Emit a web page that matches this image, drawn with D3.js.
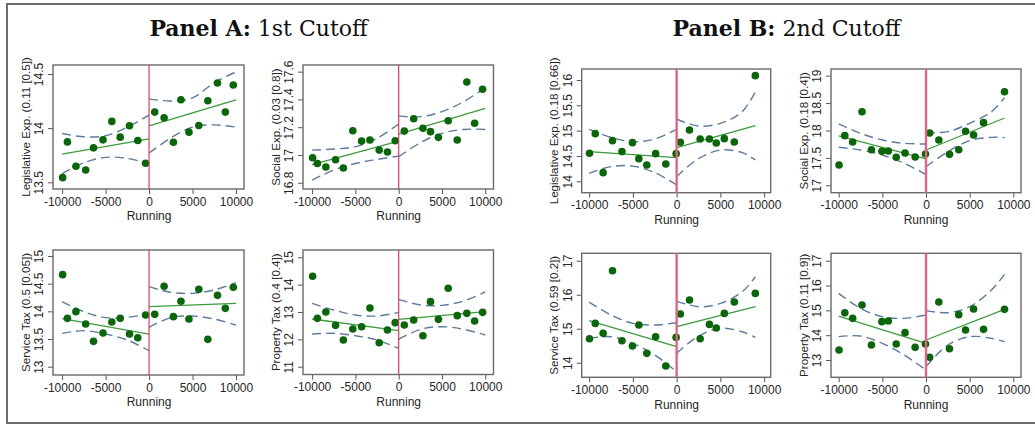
<!DOCTYPE html>
<html><head><meta charset="utf-8">
<script src="https://cdn.jsdelivr.net/npm/d3@7/dist/d3.min.js"></script>
<style>
html,body{margin:0;padding:0;background:#fff;}
svg{display:block;}
</style></head>
<body>
<svg id="chart" width="1035" height="428"></svg>
<script>
// ---------- DATA ----------
const binXA = [-9940, -9390, -8410, -7290, -6390, -5300, -4280, -3320, -2250, -1300, -400, 650, 1730, 2800, 3670, 4590, 5720, 6760, 7870, 8770, 9690];
const binXB = [-9960, -9300, -8400, -7330, -6250, -5050, -4320, -3410, -2400, -1240, -60, 420, 1470, 2690, 3750, 4530, 5450, 6590, 8990];

const legExpA  = [13.543, 13.873, 13.648, 13.614, 13.818, 13.892, 14.062, 13.917, 14.022, 13.886, 13.676, 14.148, 14.096, 13.870, 14.262, 13.963, 14.025, 14.253, 14.417, 14.148, 14.398];
const socExpA  = [16.980, 16.939, 16.913, 16.966, 16.906, 17.175, 17.100, 17.108, 17.035, 17.021, 17.103, 17.172, 17.261, 17.192, 17.168, 17.127, 17.247, 17.108, 17.526, 17.228, 17.473];
const servTaxA = [14.663, 13.873, 13.994, 13.771, 13.458, 13.608, 13.807, 13.873, 13.590, 13.524, 13.934, 13.946, 14.452, 13.904, 14.181, 13.861, 14.398, 13.494, 14.289, 14.054, 14.434];
const propTaxA = [14.305, 12.768, 13.000, 12.512, 11.976, 12.378, 12.463, 13.146, 11.878, 12.341, 12.610, 12.524, 12.707, 12.134, 13.378, 12.732, 13.866, 12.866, 12.951, 12.671, 12.988];
const legExpB  = [14.553, 14.941, 14.171, 14.803, 14.586, 14.763, 14.447, 14.322, 14.546, 14.342, 14.546, 14.770, 15.013, 14.836, 14.836, 14.757, 14.842, 14.776, 16.086];
const socExpB  = [17.371, 17.906, 17.790, 18.343, 17.650, 17.620, 17.626, 17.511, 17.590, 17.517, 17.571, 17.954, 17.827, 17.565, 17.650, 17.985, 17.918, 18.143, 18.708];
const servTaxB = [14.706, 15.157, 14.863, 16.706, 14.647, 14.490, 15.108, 14.275, 14.765, 13.902, 14.745, 15.431, 15.843, 14.706, 15.127, 15.020, 15.451, 15.784, 16.039];
const propTaxB = [13.403, 14.906, 14.678, 15.215, 13.604, 14.544, 14.570, 13.644, 14.101, 13.510, 13.644, 13.107, 15.336, 13.456, 14.826, 14.208, 15.054, 14.235, 15.040];

// fitted lines: [left start, left end (cutoff), right start (cutoff), right end]
const fitXA = [-10000, 0, 0, 10000];
const fitXB = [-10000, 0, 0, 9000];
const legExpAFit  = [13.76, 13.90, 14.02, 14.26];
const socExpAFit  = [16.93, 17.10, 17.15, 17.336];
const servTaxAFit = [13.867, 13.59, 14.084, 14.145];
const propTaxAFit = [12.744, 12.317, 12.732, 13.012];
const legExpBFit  = [14.586, 14.467, 14.664, 15.099];
const socExpBFit  = [17.90, 17.48, 17.644, 18.228];
const servTaxBFit = [15.235, 14.471, 15.059, 15.647];
const propTaxBFit = [14.772, 13.671, 13.805, 15.04];

// confidence bands (first 5 values left of cutoff, last 5 right of cutoff)
const ciXA = [-10000, -7500, -5000, -2500, 0, 0, 2500, 5000, 7500, 10000];
const ciXB = [-10000, -7500, -5000, -2500, 0, 0, 2500, 5000, 7500, 9000];
const legExpAHi  = [13.95, 13.92, 13.93, 14.01, 14.12, 14.27, 14.25, 14.28, 14.42, 14.52];
const legExpALo  = [13.58, 13.68, 13.73, 13.72, 13.67, 13.77, 13.91, 14.01, 14.03, 14.01];
const socExpAHi  = [17.035, 17.043, 17.06, 17.12, 17.223, 17.28, 17.276, 17.312, 17.384, 17.485];
const socExpALo  = [16.819, 16.891, 16.939, 16.968, 16.992, 16.987, 17.088, 17.156, 17.184, 17.184];
const servTaxAHi = [14.175, 13.994, 13.886, 13.892, 13.952, 14.446, 14.343, 14.325, 14.386, 14.518];
const servTaxALo = [13.602, 13.651, 13.590, 13.482, 13.289, 13.711, 13.886, 13.916, 13.861, 13.753];
const propTaxAHi = [13.317, 13.073, 12.89, 12.854, 12.988, 13.463, 13.256, 13.244, 13.402, 13.732];
const propTaxALo = [12.195, 12.22, 12.134, 11.976, 11.67, 12.0, 12.366, 12.463, 12.366, 12.159];
const legExpBHi  = [15.026, 14.868, 14.783, 14.836, 15.026, 15.23, 15.092, 15.145, 15.375, 15.77];
const legExpBLo  = [14.158, 14.29, 14.30, 14.171, 13.928, 14.092, 14.447, 14.618, 14.566, 14.42];
const socExpBHi  = [18.119, 17.948, 17.827, 17.766, 17.754, 17.96, 17.979, 18.131, 18.343, 18.599];
const socExpBLo  = [17.693, 17.644, 17.553, 17.401, 17.195, 17.34, 17.614, 17.815, 17.875, 17.869];
const servTaxBHi = [15.784, 15.402, 15.157, 15.108, 15.176, 15.814, 15.647, 15.745, 16.088, 16.529];
const servTaxBLo = [14.716, 14.765, 14.569, 14.225, 13.735, 14.275, 14.784, 15.01, 14.912, 14.745];
const propTaxBHi = [15.685, 15.081, 14.745, 14.678, 14.812, 14.987, 14.906, 15.148, 15.819, 16.45];
const propTaxBLo = [13.94, 13.966, 13.671, 13.201, 12.597, 12.732, 13.604, 13.94, 13.872, 13.738];

const xTicks = [-10000, -5000, 0, 5000, 10000];
const yTicksLegA = [13.5, 14, 14.5];
const yTicksSocA = [16.8, 17, 17.2, 17.4, 17.6];
const yTicksSerA = [13, 13.5, 14, 14.5, 15];
const yTicksProA = [11, 12, 13, 14, 15];
const yTicksLegB = [14, 14.5, 15, 15.5, 16];
const yTicksSocB = [17, 17.5, 18, 18.5, 19];
const yTicksSerB = [14, 15, 16, 17];
const yTicksProB = [13, 14, 15, 16, 17];

const titlesA = ["Legislative Exp. (0.11 [0.5])", "Social Exp. (0.03 [0.8])", "Service Tax (0.5 [0.05])", "Property Tax (0.4 [0.4])"];
const titlesB = ["Legislative Exp. (0.18 [0.66])", "Social Exp. (0.18 [0.4])", "Service Tax (0.59 [0.2])", "Property Tax (0.11 [0.9])"];
const xTitle = "Running";

// ---------- LAYOUT ----------
const panels = [
  {bx: binXA, y: legExpA, fx: fitXA, fit: legExpAFit, cx: ciXA, hi: legExpAHi, lo: legExpALo, ticks: yTicksLegA, title: titlesA[0],
   box: [53, 65, 244, 189], xd: [-11050, 10920], yd: [13.438, 14.583], B: false},
  {bx: binXA, y: socExpA, fx: fitXA, fit: socExpAFit, cx: ciXA, hi: socExpAHi, lo: socExpALo, ticks: yTicksSocA, title: titlesA[1],
   box: [303, 65, 493.5, 189], xd: [-11050, 10950], yd: [16.755, 17.648], B: false},
  {bx: binXA, y: servTaxA, fx: fitXA, fit: servTaxAFit, cx: ciXA, hi: servTaxAHi, lo: servTaxALo, ticks: yTicksSerA, title: titlesA[2],
   box: [53, 250, 244, 375], xd: [-11050, 10920], yd: [12.85, 15.108], B: false},
  {bx: binXA, y: propTaxA, fx: fitXA, fit: propTaxAFit, cx: ciXA, hi: propTaxAHi, lo: propTaxALo, ticks: yTicksProA, title: titlesA[3],
   box: [303, 250, 493.5, 374.5], xd: [-11050, 10950], yd: [10.715, 15.267], B: false},
  {bx: binXB, y: legExpB, fx: fitXB, fit: legExpBFit, cx: ciXB, hi: legExpBHi, lo: legExpBLo, ticks: yTicksLegB, title: titlesB[0],
   box: [581.7, 69, 770.7, 192.7], xd: [-10850, 10750], yd: [13.775, 16.217], B: true},
  {bx: binXB, y: socExpB, fx: fitXB, fit: socExpBFit, cx: ciXB, hi: socExpBHi, lo: socExpBLo, ticks: yTicksSocB, title: titlesB[1],
   box: [831, 69, 1021, 192.7], xd: [-10880, 10880], yd: [16.865, 19.122], B: true},
  {bx: binXB, y: servTaxB, fx: fitXB, fit: servTaxBFit, cx: ciXB, hi: servTaxBHi, lo: servTaxBLo, ticks: yTicksSerB, title: titlesB[2],
   box: [581.7, 253.3, 770.7, 377.3], xd: [-10850, 10750], yd: [13.571, 17.218], B: true},
  {bx: binXB, y: propTaxB, fx: fitXB, fit: propTaxBFit, cx: ciXB, hi: propTaxBHi, lo: propTaxBLo, ticks: yTicksProB, title: titlesB[3],
   box: [831, 253.3, 1021, 377.3], xd: [-10880, 10880], yd: [12.303, 17.298], B: true}
];

const svg = d3.select("#chart");
const FONT = "'Liberation Sans', Arial, sans-serif";
const TXT = "#262626";

// outer border
svg.append("path").attr("d", "M1036,4 H7 V423 H1036")
  .attr("fill", "none").attr("stroke", "#6e6e6e").attr("stroke-width", 2);

// headers
function header(cx, bold, rest) {
  const t = svg.append("text").attr("x", cx).attr("y", 36).attr("text-anchor", "middle")
    .attr("font-family", "'DejaVu Serif', 'Liberation Serif', serif").attr("font-size", 22).attr("fill", "#111");
  t.append("tspan").attr("font-weight", "bold").text(bold);
  t.append("tspan").text(rest);
}
header(258.5, "Panel A:", " 1st Cutoff");
header(786.5, "Panel B:", " 2nd Cutoff");

panels.forEach(p => {
  const [x0, y0, x1, y1] = p.box;
  const x = d3.scaleLinear().domain(p.xd).range([x0, x1]);
  const y = d3.scaleLinear().domain(p.yd).range([y1, y0]);
  const g = svg.append("g");

  // x axis
  const xa = g.append("g").attr("transform", `translate(0,${y1})`)
    .call(d3.axisBottom(x).tickValues(xTicks).tickSize(5).tickPadding(3).tickFormat(d => String(d)));
  xa.select(".domain").remove();
  xa.selectAll("line").attr("stroke", "#555");
  xa.selectAll("text").attr("font-family", FONT).attr("font-size", 12).attr("fill", TXT);

  // y axis
  const ya = g.append("g").attr("transform", `translate(${x0},0)`)
    .call(d3.axisLeft(y).tickValues(p.ticks).tickSize(5).tickFormat(d => String(d)));
  ya.select(".domain").remove();
  ya.selectAll("line").attr("stroke", "#555");
  ya.selectAll("text").attr("font-family", FONT).attr("font-size", 12).attr("fill", TXT)
    .attr("transform", "rotate(-90)").attr("x", 0).attr("y", -14).attr("dy", "0.35em")
    .attr("text-anchor", "middle");

  // axis titles
  g.append("text").attr("transform", `translate(${x0 - 27.5},${(y0 + y1) / 2}) rotate(-90)`)
    .attr("text-anchor", "middle").attr("dy", "0.35em")
    .attr("font-family", FONT).attr("font-size", 11.6).attr("fill", TXT).text(p.title);
  g.append("text").attr("x", x(0)).attr("y", y1 + 27).attr("text-anchor", "middle").attr("dy", "0.35em")
    .attr("font-family", FONT).attr("font-size", 12).attr("fill", TXT).text(xTitle);

  // frame
  g.append("rect").attr("x", x0).attr("y", y0).attr("width", x1 - x0).attr("height", y1 - y0)
    .attr("fill", "none").attr("stroke", "#6a6a6a").attr("stroke-width", 1.4);

  // confidence bands
  const ciLine = d3.line().x(d => x(d[0])).y(d => y(d[1])).curve(d3.curveCatmullRom.alpha(0.5));
  [p.hi, p.lo].forEach(arr => {
    const left = p.cx.slice(0, 5).map((v, i) => [v, arr[i]]);
    const right = p.cx.slice(5).map((v, i) => [v, arr[i + 5]]);
    [left, right].forEach(seg => g.append("path").attr("d", ciLine(seg))
      .attr("fill", "none").attr("stroke", "#5d7c9c").attr("stroke-width", 1.4)
      .attr("stroke-dasharray", "9,5"));
  });

  // fitted lines
  const fl = d3.line().x(d => x(d[0])).y(d => y(d[1]));
  [[0, 1], [2, 3]].forEach(([a, b]) => g.append("path")
    .attr("d", fl([[p.fx[a], p.fit[a]], [p.fx[b], p.fit[b]]]))
    .attr("fill", "none").attr("stroke", "#3d9a3d").attr("stroke-width", 1.3));

  // dots
  g.selectAll("circle.dot").data(p.bx.map((v, i) => [v, p.y[i]])).enter().append("circle")
    .attr("class", "dot").attr("cx", d => x(d[0])).attr("cy", d => y(d[1])).attr("r", 3.8)
    .attr("fill", "#0b650b");

  // cutoff line
  g.append("line").attr("x1", x(0)).attr("x2", x(0)).attr("y1", y0).attr("y2", y1)
    .attr("stroke", p.B ? "#e06584" : "#d63a68").attr("stroke-width", p.B ? 2.4 : 1.2);
});
</script>
</body></html>
